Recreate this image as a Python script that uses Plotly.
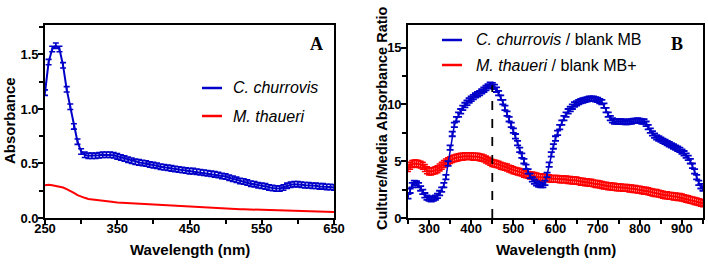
import plotly.graph_objects as go

# ---------------- DATA ----------------
# Panel A: absorbance spectra (250-650 nm, 5 nm steps)
wl_a = list(range(250, 651, 5))
abs_churrovis = [
    1.15, 1.43, 1.55, 1.58, 1.55, 1.40, 1.18, 1.02, 0.84, 0.70,
    0.61, 0.58, 0.57, 0.57, 0.57, 0.575, 0.58, 0.58, 0.58, 0.575,
    0.565, 0.555, 0.545, 0.535, 0.525, 0.515, 0.51, 0.505, 0.50, 0.49,
    0.485, 0.48, 0.47, 0.465, 0.46, 0.455, 0.45, 0.445, 0.44, 0.435,
    0.43, 0.43, 0.425, 0.42, 0.415, 0.41, 0.405, 0.40, 0.395, 0.385,
    0.38, 0.37, 0.36, 0.35, 0.34, 0.335, 0.325, 0.315, 0.31, 0.30,
    0.295, 0.29, 0.28, 0.275, 0.27, 0.27, 0.28, 0.295, 0.305, 0.31,
    0.31, 0.305, 0.30, 0.30, 0.295, 0.295, 0.29, 0.29, 0.285, 0.285, 0.28,
]
abs_churrovis_err = 0.025
abs_thaueri = [
    0.30, 0.305, 0.30, 0.295, 0.29, 0.28, 0.265, 0.25, 0.23, 0.21,
    0.195, 0.185, 0.175, 0.17, 0.165, 0.16, 0.155, 0.152, 0.149, 0.146,
    0.143, 0.141, 0.139, 0.137, 0.135, 0.133, 0.131, 0.129, 0.127, 0.125,
    0.123, 0.121, 0.119, 0.117, 0.115, 0.113, 0.111, 0.109, 0.107, 0.105,
    0.103, 0.101, 0.099, 0.097, 0.095, 0.093, 0.091, 0.089, 0.087, 0.086,
    0.085, 0.084, 0.083, 0.082, 0.081, 0.080, 0.079, 0.078, 0.077, 0.076,
    0.075, 0.074, 0.073, 0.072, 0.071, 0.070, 0.069, 0.068, 0.067, 0.066,
    0.065, 0.064, 0.063, 0.062, 0.061, 0.060, 0.059, 0.058, 0.057, 0.056, 0.055,
]

# Panel B: culture/media absorbance ratio (250-950 nm, 5 nm steps)
wl_b = list(range(250, 951, 5))
ratio_churrovis = [
    1.9, 2.4, 2.9, 3.1, 3.05, 2.9, 2.6, 2.3, 2.0, 1.8,
    1.7, 1.65, 1.7, 1.8, 1.95, 2.2, 2.5, 2.9, 3.6, 4.8,
    6.2, 7.4, 8.2, 8.7, 9.1, 9.4, 9.7, 9.95, 10.15, 10.35,
    10.5, 10.65, 10.8, 10.9, 11.0, 11.15, 11.3, 11.45, 11.6, 11.75,
    11.7, 11.55, 11.3, 11.0, 10.6, 10.2, 9.7, 9.2, 8.7, 8.2,
    7.7, 7.2, 6.6, 6.0, 5.5, 5.0, 4.5, 4.1, 3.7, 3.4,
    3.2, 3.05, 2.95, 2.9, 2.9, 3.1, 3.8, 4.7, 5.6, 6.3,
    7.0, 7.5, 8.0, 8.4, 8.8, 9.1, 9.4, 9.6, 9.8, 10.0,
    10.1, 10.2, 10.3, 10.35, 10.4, 10.45, 10.5, 10.5, 10.5, 10.45,
    10.4, 10.3, 10.2, 9.9, 9.5, 9.1, 8.8, 8.6, 8.5, 8.5,
    8.5, 8.5, 8.5, 8.45, 8.45, 8.5, 8.5, 8.55, 8.55, 8.6,
    8.55, 8.5, 8.5, 8.3, 8.0, 7.7, 7.45, 7.25, 7.1, 7.0,
    6.9, 6.8, 6.7, 6.6, 6.5, 6.4, 6.3, 6.2, 6.1, 6.0,
    5.85, 5.7, 5.5, 5.3, 5.0, 4.6, 4.1, 3.6, 3.1, 2.8, 2.6,
]
ratio_churrovis_err = 0.2
ratio_thaueri = [
    4.4, 4.6, 4.75, 4.8, 4.8, 4.75, 4.7, 4.6, 4.4, 4.2,
    4.1, 4.1, 4.15, 4.2, 4.3, 4.45, 4.6, 4.75, 4.9, 5.0,
    5.1, 5.2, 5.25, 5.3, 5.35, 5.4, 5.4, 5.45, 5.45, 5.45,
    5.45, 5.4, 5.4, 5.4, 5.35, 5.3, 5.25, 5.15, 5.05, 4.95,
    4.85, 4.8, 4.75, 4.7, 4.6, 4.55, 4.5, 4.45, 4.35, 4.3,
    4.2, 4.15, 4.1, 4.05, 4.0, 3.9, 3.85, 3.8, 3.75, 3.75,
    3.7, 3.65, 3.6, 3.6, 3.55, 3.55, 3.5, 3.5, 3.45, 3.45,
    3.45, 3.45, 3.4, 3.4, 3.4, 3.4, 3.35, 3.35, 3.3, 3.3,
    3.3, 3.25, 3.2, 3.2, 3.15, 3.15, 3.1, 3.1, 3.05, 3.0,
    3.0, 2.95, 2.9, 2.85, 2.85, 2.8, 2.8, 2.75, 2.75, 2.7,
    2.7, 2.7, 2.65, 2.65, 2.65, 2.6, 2.6, 2.55, 2.55, 2.5,
    2.5, 2.45, 2.4, 2.4, 2.35, 2.3, 2.25, 2.2, 2.2, 2.15,
    2.1, 2.05, 2.0, 2.0, 1.95, 1.95, 1.9, 1.9, 1.85, 1.85,
    1.8, 1.75, 1.7, 1.65, 1.6, 1.55, 1.5, 1.45, 1.4, 1.35, 1.3,
]
ratio_thaueri_err = 0.3
marker_wavelength = 450

# ---------------- STYLE ----------------
BLUE = "#0000C8"
RED = "#FF0000"
FONT = "Arial, Liberation Sans, sans-serif"
W, H = 708, 264


def px(x):
    return x / W


def py(y):
    return 1 - y / H


fig = go.Figure()

fig.add_trace(go.Scatter(
    x=wl_a, y=abs_thaueri, mode="lines", line=dict(color=RED, width=2),
    xaxis="x", yaxis="y", showlegend=False))
fig.add_trace(go.Scatter(
    x=wl_a, y=abs_churrovis, mode="lines", line=dict(color=BLUE, width=2),
    error_y=dict(type="constant", value=abs_churrovis_err, color=BLUE,
                 thickness=1.6, width=3),
    xaxis="x", yaxis="y", showlegend=False))

fig.add_trace(go.Scatter(
    x=wl_b, y=ratio_thaueri, mode="lines", line=dict(color=RED, width=2),
    error_y=dict(type="constant", value=ratio_thaueri_err, color=RED,
                 thickness=1.6, width=3),
    xaxis="x2", yaxis="y2", showlegend=False))
fig.add_trace(go.Scatter(
    x=wl_b, y=ratio_churrovis, mode="lines", line=dict(color=BLUE, width=1.5),
    error_y=dict(type="constant", value=ratio_churrovis_err, color=BLUE,
                 thickness=1.8, width=3.5),
    xaxis="x2", yaxis="y2", showlegend=False))

peak_idx = wl_b.index(marker_wavelength)
fig.add_trace(go.Scatter(
    x=[marker_wavelength, marker_wavelength], y=[0, ratio_churrovis[peak_idx]],
    mode="lines", line=dict(color="black", width=1.8, dash="dash"),
    xaxis="x2", yaxis="y2", showlegend=False))

ydom = [py(218), py(25)]
axis_common = dict(
    showgrid=False, zeroline=False, showline=True, linecolor="black",
    linewidth=1.6, mirror=True, ticks="outside", ticklen=5, tickwidth=1.5,
    tickcolor="black", automargin=False,
    tickfont=dict(family=FONT, size=13, color="black", weight="bold"),
)
minor_common = dict(ticklen=4, tickwidth=1.5, tickcolor="black", ticks="outside",
                    showgrid=False)

fig.update_layout(
    template="none",
    width=W, height=H, margin=dict(l=0, r=0, t=0, b=0, autoexpand=False),
    paper_bgcolor="white", plot_bgcolor="white", showlegend=False,
    xaxis=dict(domain=[px(45), px(334)], range=[250, 650], tick0=250, dtick=100,
               minor=dict(tick0=250, dtick=50, **minor_common),
               ticklabelstandoff=-7, anchor="y", **axis_common),
    yaxis=dict(domain=ydom, range=[0, 1.77], tick0=0, dtick=0.5, tickformat=".1f",
               minor=dict(tick0=0, dtick=0.25, **minor_common),
               ticklabelstandoff=-3, anchor="x", **axis_common),
    xaxis2=dict(domain=[px(408), px(703)], range=[250, 950], tick0=300, dtick=100,
                minor=dict(tick0=250, dtick=50, **minor_common),
                ticklabelstandoff=-7, anchor="y2", **axis_common),
    yaxis2=dict(domain=ydom, range=[0, 17], tick0=0, dtick=5,
                minor=dict(tick0=0, dtick=2.5, **minor_common),
                ticklabelstandoff=-3, anchor="x2", **axis_common),
)

title_font = dict(family=FONT, size=15, color="black", weight="bold")


def label(text, x, y, font, angle=0, xanchor="center"):
    return dict(text=text, x=px(x), y=py(y), xref="paper", yref="paper",
                xanchor=xanchor, yanchor="middle", showarrow=False,
                textangle=angle, font=font)


ann = [
    label("Wavelength (nm)", 190, 249, title_font),
    label("Wavelength (nm)", 556, 249, title_font),
    label("Absorbance", 10, 121, title_font, angle=-90),
    label("Culture/Media Absorbance Ratio", 382, 118,
          dict(family=FONT, size=14.5, color="black", weight="bold"), angle=-90),
]
panel_font = dict(family="Times New Roman, Liberation Serif, serif", size=18,
                  color="black", weight="bold")
ann.append(label("A", 316, 44, panel_font))
ann.append(label("B", 677, 44, panel_font))

leg_font = dict(family=FONT, size=16, color="black")
legend_items = [
    ("<i>C. churrovis</i>", BLUE, 202, 222, 88, 231),
    ("<i>M. thaueri</i>", RED, 202, 222, 116, 231),
    ("<i>C. churrovis</i> / blank MB", BLUE, 442, 462, 40, 474),
    ("<i>M. thaueri</i> / blank MB+", RED, 442, 462, 65, 474),
]
shapes = []
for text, col, x0, x1, yy, tx in legend_items:
    shapes.append(dict(type="line", xref="paper", yref="paper",
                       x0=px(x0), x1=px(x1), y0=py(yy), y1=py(yy),
                       line=dict(color=col, width=2.5)))
    ann.append(label(text, tx, yy, leg_font, xanchor="left"))

fig.update_layout(annotations=ann, shapes=shapes)
fig.write_html(
    "out.html",
    config={"displayModeBar": False},
    post_script="document.body.style.margin='0';document.body.style.overflow='hidden';",
)
